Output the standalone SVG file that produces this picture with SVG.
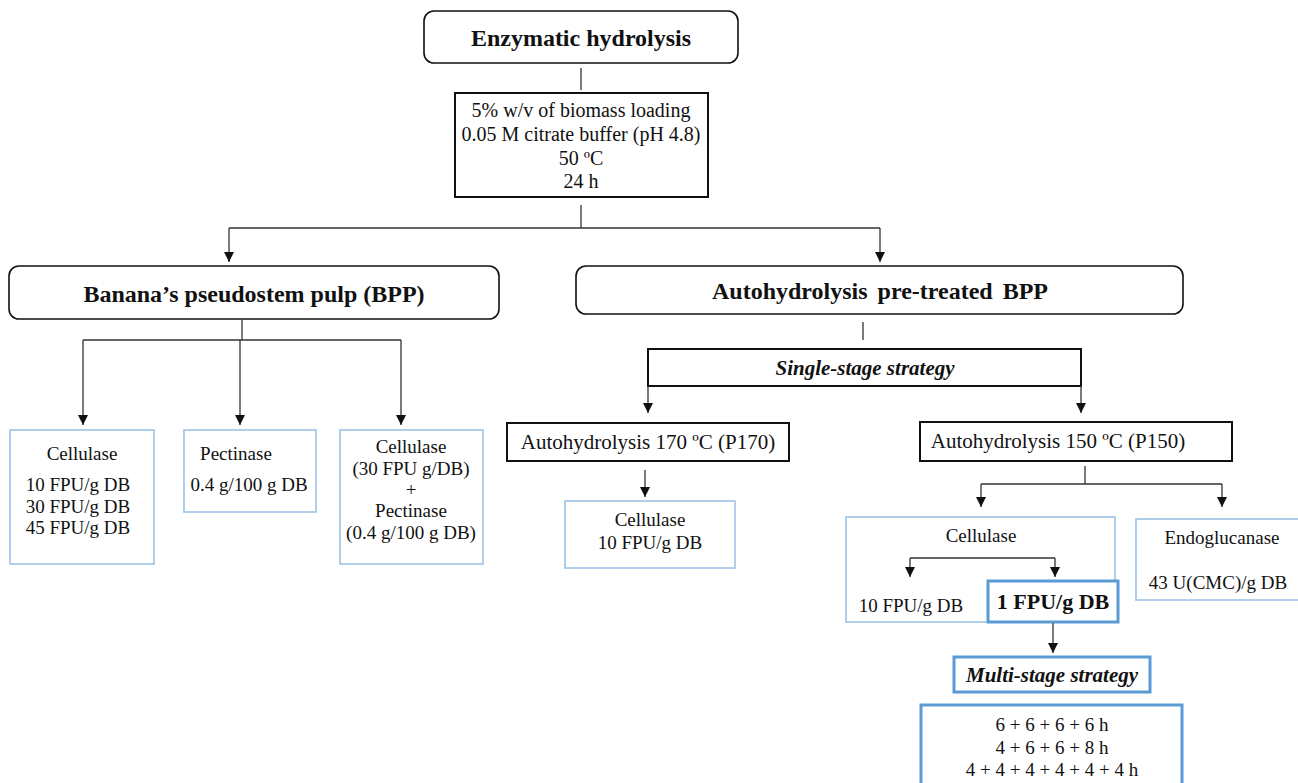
<svg xmlns="http://www.w3.org/2000/svg" width="1298" height="783" viewBox="0 0 1298 783">
<style>
  text { font-family: "Liberation Serif", "Times New Roman", serif; fill: #111; text-anchor: middle; }
  .t { font-size: 20px; }
  .s { font-size: 19px; }
  .b { font-weight: bold; }
  .bi { font-weight: bold; font-style: italic; }
  .round { fill: #fff; stroke: #111; stroke-width: 1.6; }
  .blk { fill: #fff; stroke: #111; stroke-width: 2; }
  .blue { fill: #fff; stroke: #9DC3E6; stroke-width: 1.6; }
  .blue2 { fill: #fff; stroke: #5B9BD5; stroke-width: 3; }
  .c { fill: none; stroke: #333; stroke-width: 1.3; }
  .ca { fill: none; stroke: #333; stroke-width: 1.3; marker-end: url(#ah); }
</style>
<defs>
  <marker id="ah" viewBox="0 0 10 10" refX="10" refY="5" markerWidth="10" markerHeight="10" markerUnits="userSpaceOnUse" orient="auto">
    <path d="M0,0 L10,5 L0,10 z" fill="#111"/>
  </marker>
</defs>
<rect width="1298" height="783" fill="#fff"/>

<g id="node-enzymatic">
  <rect class="round" x="424" y="11" width="314" height="52" rx="10"/>
  <text class="b" x="581" y="46" font-size="24">Enzymatic hydrolysis</text>
</g>

<g id="node-conditions">
  <rect class="blk" x="455" y="93" width="253" height="104"/>
  <text class="t" x="581" y="117">5% w/v of biomass loading</text>
  <text class="t" x="581" y="141">0.05 M citrate buffer (pH 4.8)</text>
  <text class="t" x="581" y="165">50 ºC</text>
  <text class="t" x="581" y="188">24 h</text>
</g>

<g id="node-bpp">
  <rect class="round" x="9" y="266" width="490" height="53" rx="10"/>
  <text class="b" x="254" y="302" font-size="24">Banana’s pseudostem pulp (BPP)</text>
</g>

<g id="node-auto">
  <rect class="round" x="576" y="266" width="607" height="48" rx="10"/>
  <text class="b" x="880" y="299" font-size="24" word-spacing="4">Autohydrolysis pre-treated BPP</text>
</g>

<g id="node-cellulase-bpp">
  <rect class="blue" x="10" y="430" width="144" height="134"/>
  <text class="s" x="82" y="460">Cellulase</text>
  <text class="s" x="78" y="491">10 FPU/g DB</text>
  <text class="s" x="78" y="513">30 FPU/g DB</text>
  <text class="s" x="78" y="534">45 FPU/g DB</text>
</g>

<g id="node-pectinase">
  <rect class="blue" x="184" y="430" width="132" height="82"/>
  <text class="s" x="236" y="460">Pectinase</text>
  <text class="s" x="249" y="491">0.4 g/100 g DB</text>
</g>

<g id="node-cell-pect">
  <rect class="blue" x="340" y="430" width="143" height="134"/>
  <text class="s" x="411" y="453">Cellulase</text>
  <text class="s" x="411" y="475">(30 FPU g/DB)</text>
  <text class="s" x="411" y="496">+</text>
  <text class="s" x="411" y="517">Pectinase</text>
  <text class="s" x="411" y="539">(0.4 g/100 g DB)</text>
</g>

<g id="node-single">
  <rect class="blk" x="648" y="349" width="433" height="37"/>
  <text class="bi" x="865" y="375" font-size="21">Single-stage strategy</text>
</g>

<g id="node-p170">
  <rect class="blk" x="507" y="423" width="282" height="38"/>
  <text x="648" y="449" font-size="21">Autohydrolysis 170 ºC (P170)</text>
</g>

<g id="node-p150">
  <rect class="blk" x="920" y="422" width="312" height="39"/>
  <text x="1058" y="448" font-size="21">Autohydrolysis 150 ºC (P150)</text>
</g>

<g id="node-cellulase-p170">
  <rect class="blue" x="565" y="501" width="170" height="67"/>
  <text class="s" x="650" y="526">Cellulase</text>
  <text class="s" x="650" y="549">10 FPU/g DB</text>
</g>

<g id="node-cellulase-p150">
  <rect class="blue" x="846" y="517" width="269" height="105"/>
  <text class="s" x="981" y="542">Cellulase</text>
  <text class="s" x="911" y="612">10 FPU/g DB</text>
</g>

<g id="node-1fpu">
  <rect class="blue2" x="988" y="581" width="130" height="41"/>
  <text class="b" x="1053" y="609" font-size="22">1 FPU/g DB</text>
</g>

<g id="node-endo">
  <rect class="blue" x="1136" y="519" width="170" height="81"/>
  <text class="s" x="1222" y="544">Endoglucanase</text>
  <text class="s" x="1218" y="589">43 U(CMC)/g  DB</text>
</g>

<g id="node-multi">
  <rect class="blue2" x="954" y="657" width="196" height="35"/>
  <text class="bi" x="1052" y="682" font-size="21">Multi-stage strategy</text>
</g>

<g id="node-times">
  <rect class="blue2" x="921" y="705" width="261" height="90"/>
  <text class="s" x="1052" y="731">6 + 6 + 6 + 6 h</text>
  <text class="s" x="1052" y="754">4 + 6 + 6 + 8 h</text>
  <text class="s" x="1052" y="776">4 + 4 + 4 + 4 + 4 + 4 h</text>
</g>

<g id="connectors">
  <line class="c" x1="581" y1="68" x2="581" y2="90"/>
  <line class="c" x1="581" y1="205" x2="581" y2="228"/>
  <polyline class="ca" points="229,228 229,262"/>
  <line class="c" x1="229" y1="228" x2="880" y2="228"/>
  <polyline class="ca" points="880,228 880,262"/>

  <line class="c" x1="242" y1="320" x2="242" y2="340"/>
  <line class="c" x1="83" y1="340" x2="401" y2="340"/>
  <polyline class="ca" points="83,340 83,425"/>
  <polyline class="ca" points="240,340 240,425"/>
  <polyline class="ca" points="401,340 401,425"/>

  <line class="c" x1="863" y1="322" x2="863" y2="340"/>
  <polyline class="ca" points="648,386 648,413"/>
  <polyline class="ca" points="1081,386 1081,413"/>
  <polyline class="ca" points="645,470 645,497"/>

  <line class="c" x1="1085" y1="466" x2="1085" y2="484"/>
  <line class="c" x1="981" y1="484" x2="1222" y2="484"/>
  <polyline class="ca" points="981,484 981,507"/>
  <polyline class="ca" points="1222,484 1222,507"/>

  <line class="c" x1="910" y1="558" x2="1055" y2="558"/>
  <polyline class="ca" points="910,558 910,577"/>
  <polyline class="ca" points="1055,558 1055,577"/>
  <polyline class="ca" points="1053,623 1053,653"/>
</g>
</svg>
